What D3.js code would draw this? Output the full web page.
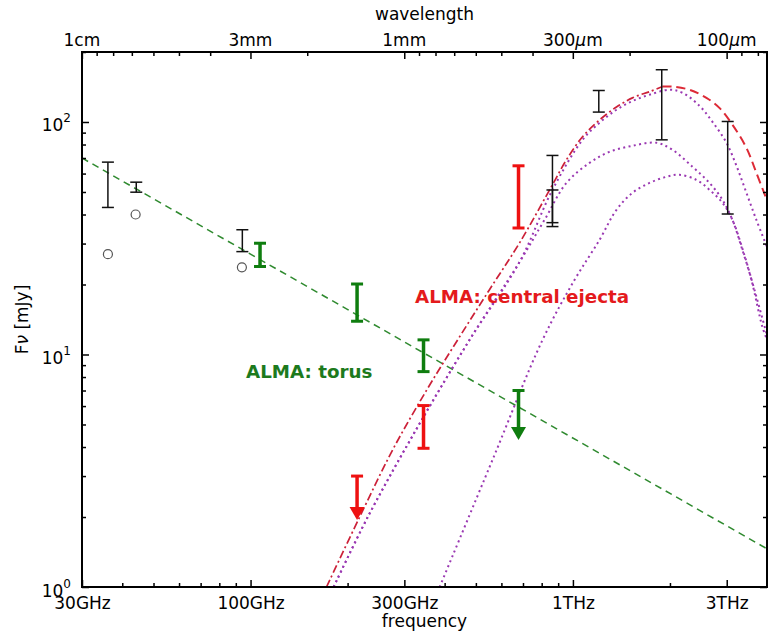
<!DOCTYPE html>
<html>
<head>
<meta charset="utf-8">
<script src="https://cdn.jsdelivr.net/npm/d3@7"></script>
<style>
  body { margin: 0; background: #fff; }
  text { font-family: "DejaVu Sans", sans-serif; }
</style>
</head>
<body>
<svg id="chart" width="778" height="635"></svg>
<script>
// ---- data (frequency in GHz, flux in mJy) ----
const torusLine = [[30, 70.0], [4000, 1.46]];

const redRise = [[172, 1.0], [218, 2.0], [276, 3.89], [352, 7.04], [439, 11.56], [551, 19.0],
  [683, 30.2], [864, 53.7], [955, 68.8], [1071, 86.4], [1209, 102], [1365, 116], [1530, 127],
  [1728, 135], [1896, 142]];
const redFall = [[1896, 142], [2036, 142], [2298, 137.6], [2595, 127], [2847, 115], [3126, 97.3],
  [3453, 77.4], [3708, 60.4], [4000, 46]];

const dustA = [[181, 1.0], [231, 2.0], [330, 4.88], [478, 11.56], [683, 25.0], [864, 51.1],
  [1071, 83.8], [1209, 99.2], [1365, 112.9], [1530, 123], [1728, 131], [1993, 137.6], [2186, 133.6],
  [2469, 117.4], [2709, 100.2], [2994, 81.4], [3216, 64.8], [3453, 49.6], [3708, 37.9], [4000, 29]];
const dustB = [[181, 1.0], [231, 2.0], [330, 4.88], [478, 11.56], [683, 25.0], [816, 37.9],
  [955, 54.7], [1126, 66.7], [1298, 74.4], [1530, 79.0], [1816, 81.4], [2036, 75.9], [2348, 64.2],
  [2652, 54.7], [2909, 46.3], [3126, 37.9], [3333, 29.0], [3580, 20.9], [3870, 13.15], [4000, 11.6]];
const dustC = [[386, 1.0], [563, 3.52], [805, 11.56], [1011, 20.9], [1209, 31.1], [1365, 41.9],
  [1530, 49.6], [1728, 54.7], [1950, 58.1], [2140, 59.3], [2415, 56.4], [2652, 51.1], [2909, 44.9],
  [3126, 37.9], [3403, 26.8], [3657, 18.97], [4000, 12.1]];

const obsFreq = [36.1, 44.2, 94.3, 864, 864, 1203, 1886, 3021];
const obsLow  = [42.9, 49.9, 27.7, 36.9, 35.5, 110.3, 83.8, 40.2];
const obsHigh = [67.2, 55.1, 34.4, 71.8, 51.0, 136.6, 167.8, 100.5];

const circleFreq = [36.1, 44.0, 94.0];
const circleFlux = [27.0, 40.0, 23.7];

const torusFreq = [107, 214, 344];
const torusLow  = [23.9, 13.9, 8.44];
const torusHigh = [30.1, 20.1, 11.56];
const torusLimFreq = [678];
const torusLim = [7.0];
const torusLimTip = [4.29];

const ejectaFreq = [344, 678];
const ejectaLow  = [3.95, 35.0];
const ejectaHigh = [6.03, 64.8];
const ejectaLimFreq = [214];
const ejectaLim = [3.0];
const ejectaLimTip = [1.94];

const freqMajor = [30, 100, 300, 1000, 3000];
const freqLabels = ["30GHz", "100GHz", "300GHz", "1THz", "3THz"];
const freqMinor = [40, 50, 60, 70, 80, 90, 200, 400, 500, 600, 700, 800, 900, 2000];
const waveMajor = [10, 3, 1, 0.3, 0.1]; // mm
const waveLabels = [["1cm"], ["3mm"], ["1mm"], ["300", "μ", "m"], ["100", "μ", "m"]];
const waveMinor = [9, 8, 7, 6, 5, 4, 2, 0.9, 0.8, 0.7, 0.6, 0.5, 0.4, 0.2, 0.09, 0.08];
const fluxMajor = [1, 10, 100];
const fluxExp = ["0", "1", "2"];
const fluxMinor = [2, 3, 4, 5, 6, 7, 8, 9, 20, 30, 40, 50, 60, 70, 80, 90, 200];

// ---- layout ----
const margin = { left: 82, right: 11, top: 52, bottom: 48 };
const W = 778, H = 635;
const svg = d3.select('#chart');
const x = d3.scaleLog().domain([30, 4000]).range([margin.left, W - margin.right]);
const y = d3.scaleLog().domain([1, 200]).range([H - margin.bottom, margin.top]);
const C_MM_GHZ = 299.792458;

const green = '#0f7d0f', red = '#ee1111', purple = '#9a38b2';

svg.append('defs').append('clipPath').attr('id', 'plot-clip')
  .append('rect')
  .attr('x', x.range()[0]).attr('y', y.range()[1])
  .attr('width', x.range()[1] - x.range()[0])
  .attr('height', y.range()[0] - y.range()[1]);

const plot = svg.append('g').attr('clip-path', 'url(#plot-clip)');

const line = d3.line()
  .x(d => x(d[0]))
  .y(d => y(d[1]))
  .curve(d3.curveCatmullRom.alpha(0.5));

// torus power law
plot.append('path').datum(torusLine)
  .attr('d', d3.line().x(d => x(d[0])).y(d => y(d[1])))
  .attr('fill', 'none').attr('stroke', '#2f8a2f').attr('stroke-width', 1.5)
  .attr('stroke-dasharray', '7,5');

// dust components (dotted)
[dustA, dustB, dustC].forEach(s => {
  plot.append('path').datum(s)
    .attr('d', line)
    .attr('fill', 'none').attr('stroke', purple).attr('stroke-width', 2)
    .attr('stroke-dasharray', '2,3.4');
});

// ejecta model
plot.append('path').datum(redRise)
  .attr('d', line)
  .attr('fill', 'none').attr('stroke', '#cc2038').attr('stroke-width', 1.7)
  .attr('stroke-dasharray', '8,3,2,3');
plot.append('path').datum(redFall)
  .attr('d', line)
  .attr('fill', 'none').attr('stroke', '#dd2a36').attr('stroke-width', 2)
  .attr('stroke-dasharray', '9,5');

// error bars
function errorBar(g, f, lo, hi, color, width, cap, capWidth) {
  const cx = x(f);
  g.append('line').attr('x1', cx).attr('x2', cx).attr('y1', y(lo)).attr('y2', y(hi))
    .attr('stroke', color).attr('stroke-width', width);
  [lo, hi].forEach(v => {
    g.append('line').attr('x1', cx - cap).attr('x2', cx + cap).attr('y1', y(v)).attr('y2', y(v))
      .attr('stroke', color).attr('stroke-width', capWidth);
  });
}
function upperLimit(g, f, v, tip, color) {
  const cx = x(f);
  const head = 13;
  g.append('line').attr('x1', cx).attr('x2', cx).attr('y1', y(v)).attr('y2', y(tip) - head + 2)
    .attr('stroke', color).attr('stroke-width', 3.5);
  g.append('line').attr('x1', cx - 6).attr('x2', cx + 6).attr('y1', y(v)).attr('y2', y(v))
    .attr('stroke', color).attr('stroke-width', 3);
  g.append('path')
    .attr('d', `M${cx - 7.5},${y(tip) - head} L${cx + 7.5},${y(tip) - head} L${cx},${y(tip)} Z`)
    .attr('fill', color);
}

const marks = svg.append('g');
obsFreq.forEach((f, i) => errorBar(marks, f, obsLow[i], obsHigh[i], '#111', 1.5, 6, 1.5));
circleFreq.forEach((f, i) => {
  marks.append('circle').attr('cx', x(f)).attr('cy', y(circleFlux[i])).attr('r', 4.5)
    .attr('fill', 'none').attr('stroke', '#555').attr('stroke-width', 1.2);
});
torusFreq.forEach((f, i) => errorBar(marks, f, torusLow[i], torusHigh[i], green, 3.5, 6, 3));
torusLimFreq.forEach((f, i) => upperLimit(marks, f, torusLim[i], torusLimTip[i], green));
ejectaFreq.forEach((f, i) => errorBar(marks, f, ejectaLow[i], ejectaHigh[i], red, 3.5, 6, 3));
ejectaLimFreq.forEach((f, i) => upperLimit(marks, f, ejectaLim[i], ejectaLimTip[i], red));

// annotations
svg.append('text').attr('x', 415).attr('y', 303)
  .attr('font-size', 18.3).attr('font-weight', 'bold').attr('fill', '#e41a1c')
  .text('ALMA: central ejecta');
svg.append('text').attr('x', 246).attr('y', 378)
  .attr('font-size', 18.3).attr('font-weight', 'bold').attr('fill', '#1d7a1d')
  .text('ALMA: torus');

// axes
const axes = svg.append('g').attr('font-size', 17);
const axBottom = axes.append('g').attr('transform', `translate(0,${y.range()[0]})`);
axBottom.call(d3.axisBottom(x).tickValues(freqMajor).tickSize(-7).tickSizeOuter(0).tickPadding(10)
  .tickFormat((d, i) => freqLabels[i]));
axBottom.append('g').call(d3.axisBottom(x).tickValues(freqMinor).tickSize(-4).tickSizeOuter(0).tickFormat(''));

const axTop = axes.append('g').attr('transform', `translate(0,${y.range()[1]})`);
axTop.call(d3.axisTop(x).tickValues(waveMajor.map(l => C_MM_GHZ / l)).tickSize(-7).tickSizeOuter(0)
  .tickFormat(''));
axTop.append('g').call(d3.axisTop(x).tickValues(waveMinor.map(l => C_MM_GHZ / l)).tickSize(-4)
  .tickSizeOuter(0).tickFormat(''));
waveMajor.forEach((l, i) => {
  const t = axTop.append('text').attr('x', x(C_MM_GHZ / l)).attr('y', -6)
    .attr('text-anchor', 'middle').attr('fill', '#000').attr('font-size', 17);
  waveLabels[i].forEach(p => {
    t.append('tspan').attr('font-style', p === 'μ' ? 'italic' : null).text(p);
  });
});

const axLeft = axes.append('g').attr('transform', `translate(${x.range()[0]},0)`);
axLeft.call(d3.axisLeft(y).tickValues(fluxMajor).tickSize(-7).tickSizeOuter(0).tickFormat(''));
axLeft.append('g').call(d3.axisLeft(y).tickValues(fluxMinor).tickSize(-4).tickSizeOuter(0).tickFormat(''));
fluxMajor.forEach((v, i) => {
  const t = axLeft.append('text').attr('x', -11).attr('y', y(v) + 9.5)
    .attr('text-anchor', 'end').attr('fill', '#000').attr('font-size', 17);
  t.append('tspan').text('10');
  t.append('tspan').attr('dy', -9).attr('font-size', 12).text(fluxExp[i]);
});

const axRight = axes.append('g').attr('transform', `translate(${x.range()[1]},0)`);
axRight.call(d3.axisRight(y).tickValues(fluxMajor).tickSize(-7).tickSizeOuter(0).tickFormat(''));
axRight.append('g').call(d3.axisRight(y).tickValues(fluxMinor).tickSize(-4).tickSizeOuter(0).tickFormat(''));

axes.selectAll('.domain').remove();
axes.selectAll('.tick line').attr('stroke', '#000').attr('stroke-width', 1.5);
axes.selectAll('.tick text').attr('fill', '#000').attr('font-size', 17);

svg.append('rect')
  .attr('x', x.range()[0]).attr('y', y.range()[1])
  .attr('width', x.range()[1] - x.range()[0])
  .attr('height', y.range()[0] - y.range()[1])
  .attr('fill', 'none').attr('stroke', '#000').attr('stroke-width', 2);

// axis titles
svg.append('text').attr('x', (x.range()[0] + x.range()[1]) / 2).attr('y', 627)
  .attr('text-anchor', 'middle').attr('font-size', 17).text('frequency');
svg.append('text').attr('x', (x.range()[0] + x.range()[1]) / 2).attr('y', 20)
  .attr('text-anchor', 'middle').attr('font-size', 17).text('wavelength');
const yl = svg.append('text')
  .attr('transform', `translate(28,${(y.range()[0] + y.range()[1]) / 2}) rotate(-90)`)
  .attr('text-anchor', 'middle').attr('font-size', 17);
yl.append('tspan').text('F');
yl.append('tspan').attr('font-style', 'italic').text('ν');
yl.append('tspan').text(' [mJy]');
</script>
</body>
</html>
